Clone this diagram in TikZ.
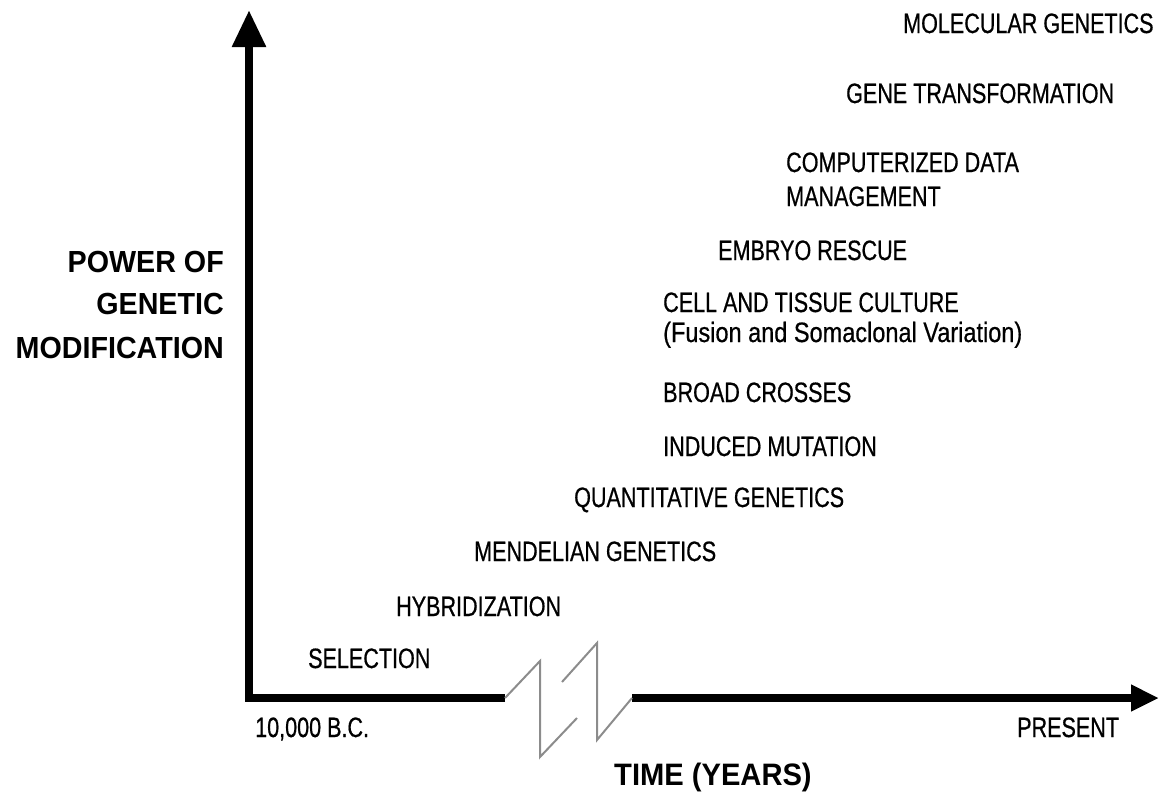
\documentclass[tikz,border=0pt]{standalone}
\usepackage{fontspec}
\usetikzlibrary{arrows.meta}
\newfontfamily\labfont[FakeStretch=0.77,FakeBold=0.6]{Liberation Sans}
\newfontfamily\lcfont[FakeStretch=0.84,FakeBold=0.6]{Liberation Sans}
\newfontfamily\ttlfont[FakeStretch=0.94]{Liberation Sans}
\begin{document}
\begin{tikzpicture}[x=1pt,y=-1pt,
  lab/.style={anchor=base west,inner sep=0pt,font=\labfont\fontsize{28}{34}\selectfont},
  ttl/.style={inner sep=0pt,font=\ttlfont\bfseries\fontsize{30.5}{42}\selectfont},
  axis/.style={line width=8.5pt,line join=miter},
  brk/.style={line width=2pt,draw=black!45,line join=miter}]
\useasboundingbox (0,0) rectangle (1159,793);
% axes
\coordinate (ytip) at (249,10);
\coordinate (orig) at (249,698);
\coordinate (bl) at (505,698);
\coordinate (br) at (632,698);
\coordinate (xtip) at (1159,698);
\draw[axis,-{Triangle[length=37pt,width=32pt]}] (bl) -- (orig) -- (ytip);
\draw[axis,-{Triangle[length=28pt,width=25pt]}] (br) -- (xtip);
% break
\coordinate (b1) at (540,661);
\coordinate (b2) at (540,757);
\coordinate (b3) at (577,718);
\coordinate (c0) at (562,682);
\coordinate (c1) at (597,643);
\coordinate (c2) at (597,740);
\draw[brk] (bl) -- (b1) -- (b2) -- (b3);
\draw[brk] (c0) -- (c1) -- (c2) -- (br);
% labels
\node[lab] (mg) at (903,33) {MOLECULAR GENETICS};
\node[lab] (gt) at (846,103) {GENE TRANSFORMATION};
\node[lab] (cd1) at (786,172) {COMPUTERIZED DATA};
\node[lab] (cd2) at (786,206) {MANAGEMENT};
\node[lab] (er) at (718,260) {EMBRYO RESCUE};
\node[lab] (ct1) at (663,312) {CELL AND TISSUE CULTURE};
\node[lab,font=\lcfont\fontsize{28}{34}\selectfont] (ct2) at (663,342) {(Fusion and Somaclonal Variation)};
\node[lab] (bc) at (663,402) {BROAD CROSSES};
\node[lab] (im) at (663,456) {INDUCED MUTATION};
\node[lab] (qg) at (574,507) {QUANTITATIVE GENETICS};
\node[lab] (mdg) at (474,561) {MENDELIAN GENETICS};
\node[lab] (hy) at (396,616) {HYBRIDIZATION};
\node[lab] (se) at (308,668) {SELECTION};
\node[lab] (bc10) at (255,737) {10,000 B.C.};
\node[lab] (pr) at (1017,737) {PRESENT};
\node[ttl,anchor=base west,font=\ttlfont\bfseries\fontsize{31}{42}\selectfont] (tm) at (614,785) {TIME (YEARS)};
\node[ttl,anchor=base east] (p1) at (224,272) {POWER OF};
\node[ttl,anchor=base east] (p2) at (224,314) {GENETIC};
\node[ttl,anchor=base east] (p3) at (224,358) {MODIFICATION};
\end{tikzpicture}
\end{document}
